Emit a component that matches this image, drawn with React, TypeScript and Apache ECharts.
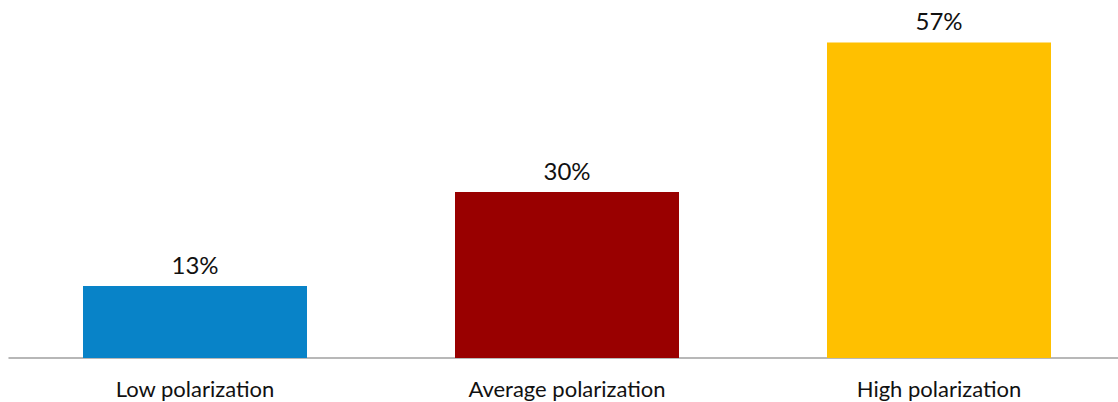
import React, { useEffect, useRef } from "react";
import * as echarts from "echarts";

const categories = ["Low polarization", "Average polarization", "High polarization"];
const shares = [13, 30, 57];
const barColors = ["#0883C8", "#990000", "#FFC000"];

export default function App() {
  const ref = useRef<HTMLDivElement>(null);

  useEffect(() => {
    if (!ref.current) return;
    const chart = echarts.init(ref.current, undefined, { renderer: "svg" });
    chart.setOption({
      animation: false,
      grid: { left: 9, top: 26, width: 1116, height: 332 },
      xAxis: {
        type: "category",
        data: categories,
        axisLine: { lineStyle: { color: "#A0A0A0", width: 1.5 } },
        axisTick: { show: false },
        axisLabel: {
          color: "#111",
          fontFamily: "Lato",
          fontSize: 22,
          margin: 19,
        },
      },
      yAxis: {
        type: "value",
        min: 0,
        max: 60,
        show: false,
        splitLine: { show: false },
      },
      series: [
        {
          type: "bar",
          barWidth: 224,
          data: shares.map((v, i) => ({ value: v, itemStyle: { color: barColors[i] } })),
          label: {
            show: true,
            position: "top",
            distance: 10,
            color: "#111",
            fontFamily: "Lato",
            fontSize: 24,
            formatter: (p: any) => `${p.value}%`,
          },
        },
      ],
    });
    return () => chart.dispose();
  }, []);

  return (
    <div style={{ position: "absolute", left: 0, top: 0, width: 1118, height: 402, overflow: "hidden", background: "#fff" }}>
      <div ref={ref} style={{ width: 1130, height: 402 }} />
    </div>
  );
}
